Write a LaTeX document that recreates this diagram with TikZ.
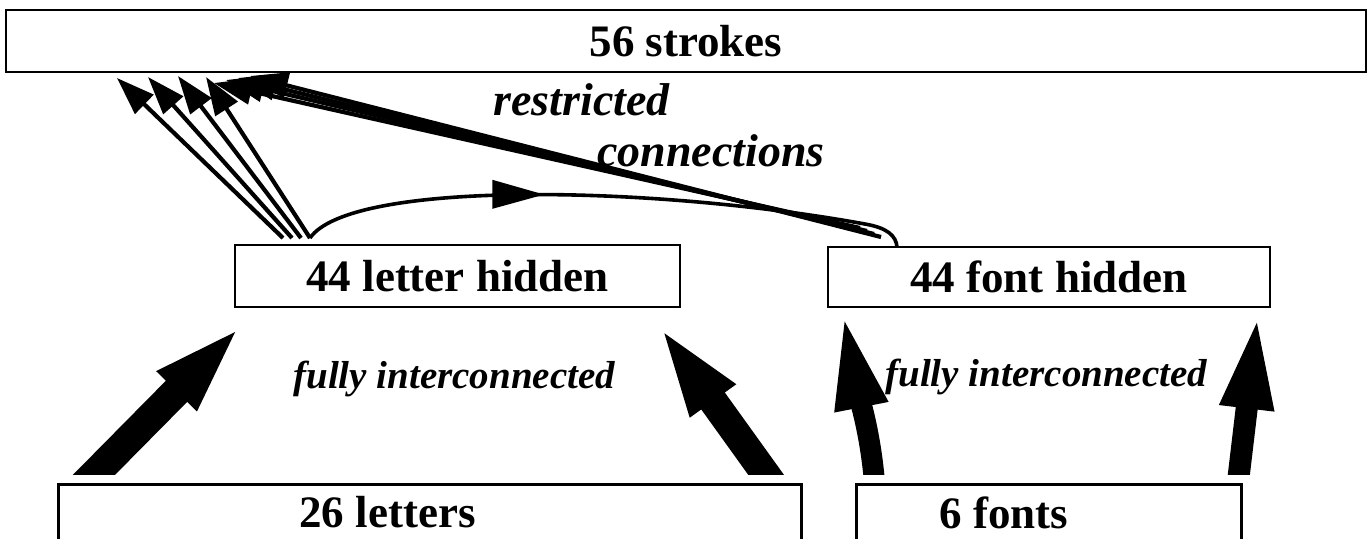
\documentclass[tikz,border=0pt]{standalone}
\usepackage{fontspec}
\setmainfont{Liberation Serif}
\usetikzlibrary{arrows.meta,decorations.markings}

\tikzset{
  layer/.style={draw, line width=1.4pt, inner sep=0pt,
    font=\fontsize{22.5}{27}\selectfont\bfseries},
  note/.style={inner sep=0pt, anchor=base west,
    font=\fontsize{23}{27}\selectfont\bfseries\itshape},
  smallnote/.style={note, font=\fontsize{19.5}{23}\selectfont\bfseries\itshape},
  link/.style={line width=2.1pt, -{Triangle[length=19pt,width=13pt]}},
  fat/.style={line width=#1, -{Triangle[length=48pt,width=24pt]}},
  midarrow/.style={postaction={decorate}, decoration={markings,
    mark=at position #1 with {\arrow{Triangle[length=26pt,width=14pt]}}}}
}

\begin{document}
\begin{tikzpicture}[x=0.5pt,y=-0.5pt]
  \useasboundingbox (0,0) rectangle (1369,538);

  % layers
  \node[layer, minimum width=680pt, minimum height=31pt] (strokes) at (686,41) {56 strokes};
  \node[layer, minimum width=222.5pt, minimum height=31pt] (lhid) at (457.5,276) {44 letter hidden};
  \node[layer, minimum width=221pt, minimum height=30pt] (fhid) at (1049,277) {44 font hidden};
  \node[layer, anchor=north west, minimum height=28pt, inner xsep=120.5pt,
        text width=130.5pt, align=flush left] (letters) at (57,483) {26 letters};
  \node[layer, anchor=north west, minimum height=28pt, inner xsep=41.5pt,
        text width=109.5pt, align=flush left] (fonts) at (855,483) {6 fonts};

  % labels
  \node[note] (restr) at (493,115) {restricted};
  \node[note] (conn) at (597,166) {connections};
  \node[smallnote] (full1) at (293,388) {fully interconnected};
  \node[smallnote] (full2) at (885,386) {fully interconnected};

  % fully interconnected layers
  \coordinate (a1) at (79,490);   \coordinate (b1) at (244,323);
  \coordinate (a2) at (777,490);  \coordinate (b2) at (657,323);
  \coordinate (a3) at (875,490);  \coordinate (b3) at (843,313);
  \coordinate (a4) at (1237,490); \coordinate (b4) at (1258,313);
  \begin{scope}
    \clip (0,0) rectangle (1369,474);
    \draw[fat=15pt] (a1) -- (b1);
    \draw[fat=14.5pt] (a2) -- (b2);
    \draw[fat=10.5pt] (a3) .. controls (872,440) and (860,400) .. (b3);
    \draw[fat=11pt] (a4) -- (b4);
  \end{scope}

  % restricted connections to the strokes
  \coordinate (lh1) at (283,238); \coordinate (st1) at (117,78);
  \coordinate (lh2) at (292,238); \coordinate (st2) at (148,77);
  \coordinate (lh3) at (301,238); \coordinate (st3) at (178,76);
  \coordinate (lh4) at (310,238); \coordinate (st4) at (206,77);
  \coordinate (fh1) at (860,228); \coordinate (st5) at (214,83);
  \coordinate (fh2) at (867,231); \coordinate (st6) at (226,80);
  \coordinate (fh3) at (874,234); \coordinate (st7) at (238,78);
  \coordinate (fh4) at (881,237); \coordinate (st8) at (250,76);
  \foreach \i in {1,...,4}
    \draw[link] (lh\i) -- (st\i);
  \foreach \i/\j in {1/5,2/6,3/7,4/8}
    \draw[link] (fh\i) -- (st\j);

  % letter hidden to font hidden
  \coordinate (fh0) at (897,247);
  \draw[line width=1.8pt, midarrow=0.4] (lh4) .. controls (350,180) and (650,185) .. (865,224)
    .. controls (888,228) and (896,236) .. (fh0);
\end{tikzpicture}
\end{document}
